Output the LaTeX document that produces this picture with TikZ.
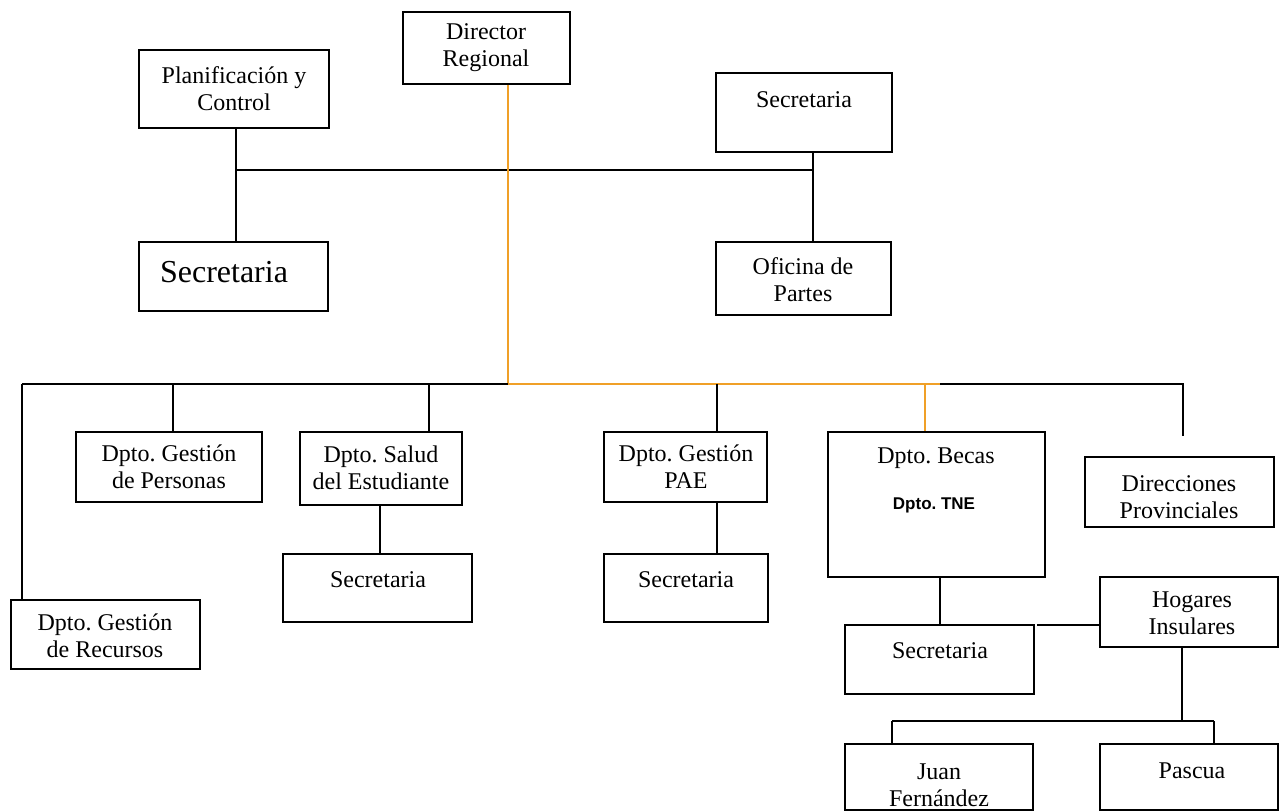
\documentclass[tikz,border=0pt]{standalone}
\usepackage{fontspec}
\setmainfont{Liberation Serif}
\newfontfamily\tnefont{Liberation Sans}
\usetikzlibrary{fit}
\definecolor{orgline}{RGB}{240,160,40}
\tikzset{
  box/.style={draw=black, line width=1pt, inner sep=0pt, rectangle},
  txt/.style={align=center, inner sep=0pt, font=\frenchspacing\fontsize{12}{13.5}\selectfont},
  bigtxt/.style={align=center, inner sep=0pt, font=\fontsize{16}{18}\selectfont},
  tnetxt/.style={inner sep=0pt, font=\frenchspacing\tnefont\bfseries\fontsize{8.5}{10}\selectfont},
  conn/.style={draw=black, line width=1pt},
  oconn/.style={draw=orgline, line width=1pt},
}
\begin{document}
\begin{tikzpicture}[x=0.5pt,y=-0.5pt]
\clip (0,0) rectangle (1280,812);
\fill[white] (0,0) rectangle (1280,812);
% boxes
\node[box, fit={(403,12) (570,84)}] (dir) {};
\node[box, fit={(139,50) (329,128)}] (plan) {};
\node[box, fit={(716,73) (892,152)}] (sect) {};
\node[box, fit={(139,242) (328,311)}] (secl) {};
\node[box, fit={(716,242) (891,315)}] (ofi) {};
\node[box, fit={(76,432) (262,502)}] (per) {};
\node[box, fit={(300,432) (462,505)}] (sal) {};
\node[box, fit={(604,432) (767,502)}] (pae) {};
\node[box, fit={(828,432) (1045,577)}] (bec) {};
\node[box, fit={(1085,457) (1274,527)}] (prov) {};
\node[box, fit={(11,600) (200,669)}] (rec) {};
\node[box, fit={(283,554) (472,622)}] (salsec) {};
\node[box, fit={(604,554) (768,622)}] (paesec) {};
\node[box, fit={(845,625) (1034,694)}] (becsec) {};
\node[box, fit={(1100,577) (1278,647)}] (hog) {};
\node[box, fit={(845,744) (1033,810)}] (juan) {};
\node[box, fit={(1100,744) (1278,810)}] (pas) {};
% texts
\node[txt] (tdir) at (486,48) {Director\\Regional};
\node[txt] (tplan) at (234,89) {Planificación y\\Control};
\node[txt] (tsect) at (804,100) {Secretaria};
\node[bigtxt] (tsecl) at (224,272) {Secretaria};
\node[txt] (tofi) at (803,280) {Oficina de\\Partes};
\node[txt] (tper) at (169,467) {Dpto. Gestión\\de Personas};
\node[txt] (tsal) at (381,468) {Dpto. Salud\\del Estudiante};
\node[txt] (tpae) at (686,467) {Dpto. Gestión\\PAE};
\node[txt] (tbec) at (936,458) {Dpto. Becas};
\node[tnetxt] (ttne) at (934,505) {Dpto. TNE};
\node[txt] (tprov) at (1179,497) {Direcciones\\Provinciales};
\node[txt] (trec) at (105,636) {Dpto. Gestión\\de Recursos};
\node[txt] (tsalsec) at (378,580) {Secretaria};
\node[txt] (tpaesec) at (686,580) {Secretaria};
\node[txt] (tbecsec) at (940,651) {Secretaria};
\node[txt] (thog) at (1192,613) {Hogares\\Insulares};
\node[txt] (tjuan) at (939,785) {Juan\\Fernández};
\node[txt] (tpas) at (1192,771) {Pascua};
% coordinates
\coordinate (b1l) at (236,170);
\coordinate (b1r) at (813,170);
\coordinate (b2l) at (22,384);
\coordinate (b2o) at (508,384);
\coordinate (b2p) at (173,384);
\coordinate (b2s) at (429,384);
\coordinate (b2a) at (717,384);
\coordinate (b2b) at (925,384);
\coordinate (b2e) at (940,384);
\coordinate (b2r) at (1183,384);
\coordinate (provend) at (1183,436);
\coordinate (hb) at (1182,721);
\coordinate (hl) at (892,721);
\coordinate (hr) at (1214,721);
\coordinate (bsl) at (1037,625);
\coordinate (sx) at (380,0);
% connectors
\draw[conn] (plan.south -| b1l) -- (secl.north -| b1l);
\draw[conn] (b1l) -- (b1r);
\draw[conn] (sect.south -| b1r) -- (ofi.north -| b1r);
\draw[oconn] (dir.south -| b2o) -- (b2o);
\draw[conn] (b2l) -- (b2o);
\draw[oconn] (b2o) -- (b2e);
\draw[conn] (b2e) -- (b2r) -- (provend);
\draw[conn] (b2l) -- (rec.north -| b2l);
\draw[conn] (b2p) -- (per.north -| b2p);
\draw[conn] (b2s) -- (sal.north -| b2s);
\draw[conn] (b2a) -- (pae.north -| b2a);
\draw[oconn] (b2b) -- (bec.north -| b2b);
\draw[conn] (sal.south -| sx) -- (salsec.north -| sx);
\draw[conn] (pae.south -| b2a) -- (paesec.north -| b2a);
\draw[conn] (bec.south -| b2e) -- (becsec.north -| b2e);
\draw[conn] (bsl) -- (hog.west |- bsl);
\draw[conn] (hog.south -| hb) -- (hb);
\draw[conn] (hl) -- (hr);
\draw[conn] (hl) -- (juan.north -| hl);
\draw[conn] (hr) -- (pas.north -| hr);
\end{tikzpicture}
\end{document}
